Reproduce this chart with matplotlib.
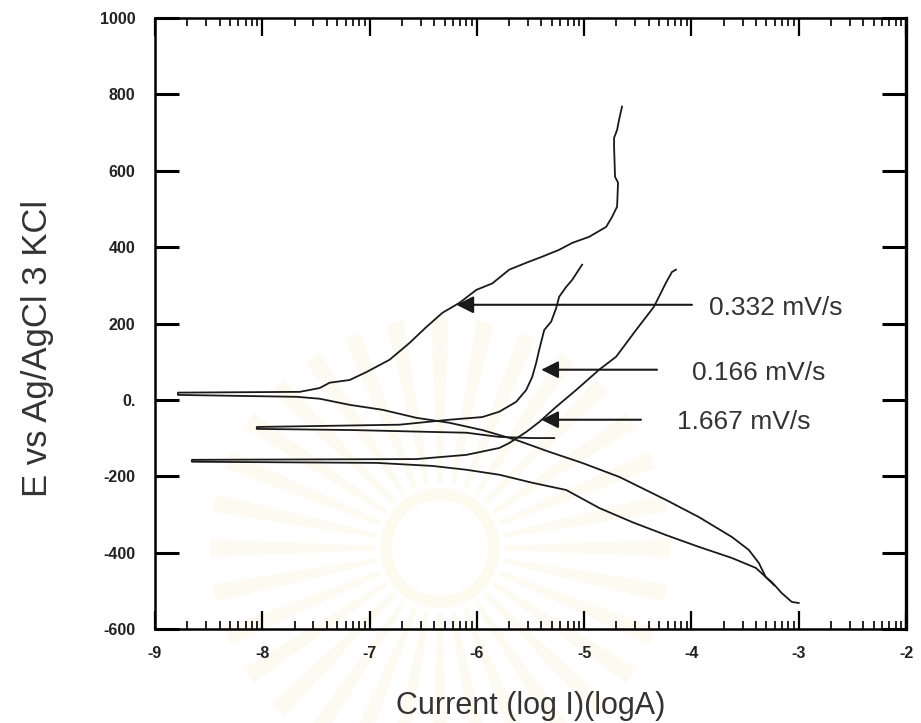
import numpy as np
import matplotlib.pyplot as plt
from matplotlib.patches import Wedge, Circle

# Polarisation scans: log current (logA) and potential (mV vs Ag/AgCl)
# each sweep runs from the cathodic tail, through Ecorr, up the anodic branch
logi_0332 = [-3.00, -3.065, -3.158, -3.251, -3.307, -3.372, -3.465, -3.623, -3.930, -4.237,
             -4.670, -5.019, -5.326, -5.633, -5.949, -6.256, -6.563, -6.879, -7.186, -7.465,
             -7.679, -8.786,
             -8.786, -7.651, -7.465, -7.372, -7.186, -7.028, -6.814, -6.628, -6.470, -6.321,
             -6.163, -6.005, -5.856, -5.698, -5.540, -5.391, -5.233, -5.112, -4.953, -4.795,
             -4.740, -4.693, -4.684, -4.712, -4.721, -4.721, -4.693, -4.674, -4.647]
e_0332 = [-532, -529, -506, -477, -464, -427, -393, -359, -307, -262,
          -202, -165, -136, -105, -79, -60, -47, -26, -13, 3,
          8, 13,
          19, 21, 31, 45, 52, 73, 105, 149, 191, 228,
          254, 288, 305, 341, 359, 375, 393, 411, 427, 453,
          479, 506, 569, 584, 663, 686, 707, 734, 768]

logi_0166 = [-5.279, -5.484, -5.791, -6.098, -6.414, -7.158, -8.051,
             -8.051, -6.721, -6.256, -5.949, -5.791, -5.633, -5.540, -5.484, -5.447, -5.419,
             -5.372, -5.307, -5.260, -5.233, -5.167, -5.112, -5.019]
e_0166 = [-100, -100, -97, -86, -84, -79, -76,
          -71, -65, -52, -45, -31, -5, 26, 60, 97, 131,
          183, 205, 241, 270, 296, 314, 354]

logi_1667 = [-3.23, -3.307, -3.400, -3.623, -3.930, -4.237, -4.553, -4.860, -5.167, -5.484,
             -5.791, -6.098, -6.414, -6.935, -8.656,
             -8.656, -6.563, -6.098, -5.791, -5.698, -5.540, -5.419, -5.260, -5.074, -4.860,
             -4.702, -4.516, -4.349, -4.237, -4.181, -4.144]
e_1667 = [-485, -464, -440, -414, -385, -354, -320, -283, -236, -217,
          -196, -183, -173, -165, -162,
          -157, -155, -144, -126, -113, -84, -58, -18, 26, 79,
          113, 183, 244, 307, 335, 341]

rate_labels = ['0.332 mV/s', '0.166 mV/s', '1.667 mV/s']

x_ticks = [-9, -8, -7, -6, -5, -4, -3, -2]
x_ticklabels = ['-9', '-8', '-7', '-6', '-5', '-4', '-3', '-2']
y_ticks = [1000, 800, 600, 400, 200, 0, -200, -400, -600]
y_ticklabels = ['1000', '800', '600', '400', '200', '0.', '-200', '-400', '-600']

fig = plt.figure(figsize=(9.21, 7.23), dpi=100)

# faint sunburst emblem sitting behind the plot
bg = fig.add_axes([0, 0, 1, 1], zorder=0)
bg.set_xlim(0, 921)
bg.set_ylim(723, 0)
bg.axis('off')
cx, cy = 440, 548
for ang in np.arange(0, 360, 11.25):
    bg.add_patch(Wedge((cx, cy), 230, ang - 2.2, ang + 2.2, width=165,
                       facecolor='#f3d27a', edgecolor='none', alpha=0.10))
bg.add_patch(Circle((cx, cy), 60, facecolor='#f8e6b0', edgecolor='none', alpha=0.18))
bg.add_patch(Circle((cx, cy), 48, facecolor='white', edgecolor='none'))

ax = fig.add_axes([155 / 921, 1 - 629 / 723, 751 / 921, 611 / 723], zorder=1)
ax.patch.set_alpha(0)

line_kw = dict(color='#1a1a1a', lw=1.3)
ax.plot(logi_0332, e_0332, **line_kw)
ax.plot(logi_0166, e_0166, **line_kw)
ax.plot(logi_1667, e_1667, **line_kw)

# arrows pointing each label at its curve
arrow_kw = dict(arrowstyle='-|>', color='#1a1a1a', lw=1.5, mutation_scale=26,
                shrinkA=0, shrinkB=0)
ax.annotate('', xy=(-6.191, 249), xytext=(-3.995, 249), arrowprops=arrow_kw)
ax.annotate('', xy=(-5.400, 79), xytext=(-4.321, 79), arrowprops=arrow_kw)
ax.annotate('', xy=(-5.400, -52), xytext=(-4.470, -52), arrowprops=arrow_kw)

txt_kw = dict(fontsize=19, color='#333333', family='Liberation Sans', ha='left', va='center')
ax.text(-3.837, 241, rate_labels[0], **txt_kw)
ax.text(-3.995, 71, rate_labels[1], **txt_kw)
ax.text(-4.135, -58, rate_labels[2], **txt_kw)

ax.set_xlim(-9, -2)
ax.set_ylim(-600, 1000)

ax.set_xticks(x_ticks)
ax.set_xticklabels(x_ticklabels)
ax.set_yticks(y_ticks)
ax.set_yticklabels(y_ticklabels)
minor_x = [d + np.log10(m) for d in range(-9, -2) for m in range(2, 10)]
ax.set_xticks(minor_x, minor=True)

for lab in ax.get_xticklabels() + ax.get_yticklabels():
    lab.set_family('Liberation Sans')
    lab.set_fontweight('bold')
    lab.set_fontsize(11.5)
    lab.set_color('#222222')

ax.tick_params(axis='x', which='major', direction='in', top=True, bottom=True,
               length=13, width=1.6, pad=12)
ax.tick_params(axis='x', which='minor', direction='in', top=True, bottom=True,
               length=6, width=1.2)
ax.tick_params(axis='y', which='major', direction='in', left=True, right=True,
               length=17, width=2.2, pad=14)
for side in ['left', 'bottom', 'top']:
    ax.spines[side].set_linewidth(1.8)
ax.spines['right'].set_linewidth(2.4)

fig.text(38 / 921, 1 - 348 / 723, 'E vs Ag/AgCl 3 KCl', rotation=90, fontsize=25,
         color='#333333', family='Liberation Sans', ha='center', va='center')
fig.text(531 / 921, 1 - 706 / 723, 'Current (log I)(logA)', fontsize=22,
         color='#333333', family='Liberation Sans', ha='center', va='center')

fig.savefig('out.png', dpi=100)
